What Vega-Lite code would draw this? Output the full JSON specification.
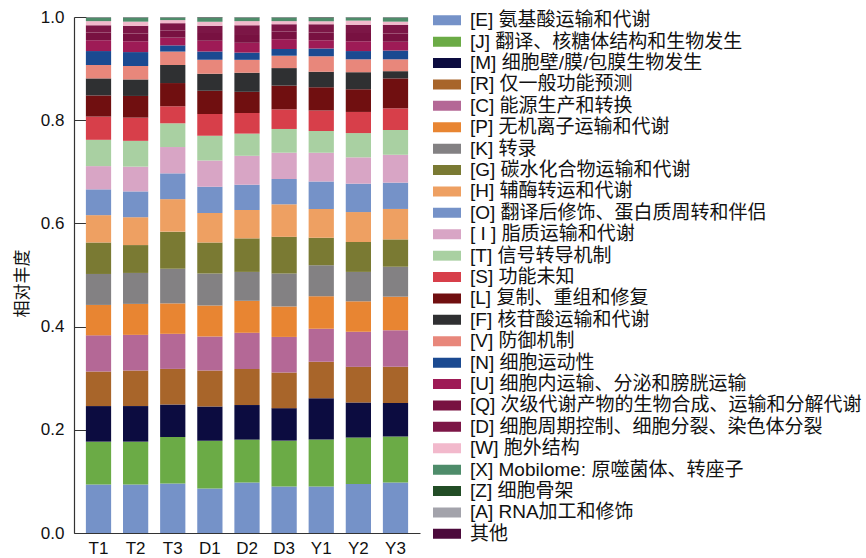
{
  "$schema": "https://vega.github.io/schema/vega-lite/v6.json",
  "width": 346,
  "height": 516,
  "autosize": {"type": "none"},
  "padding": {"left": 74, "top": 17, "right": 446, "bottom": 25},
  "background": "white",
  "config": {
    "view": {"stroke": null},
    "font": "Liberation Sans, Noto Sans CJK SC",
    "axis": {"domainColor": "#333333", "tickColor": "#333333", "labelColor": "#111111", "titleColor": "#111111", "grid": false}
  },
  "datasets": {
    "cogs": [
      {"code": "E", "rank": 1, "name": "[E] 氨基酸运输和代谢"},
      {"code": "J", "rank": 2, "name": "[J] 翻译、核糖体结构和生物发生"},
      {"code": "M", "rank": 3, "name": "[M] 细胞壁/膜/包膜生物发生"},
      {"code": "R", "rank": 4, "name": "[R] 仅一般功能预测"},
      {"code": "C", "rank": 5, "name": "[C] 能源生产和转换"},
      {"code": "P", "rank": 6, "name": "[P] 无机离子运输和代谢"},
      {"code": "K", "rank": 7, "name": "[K] 转录"},
      {"code": "G", "rank": 8, "name": "[G] 碳水化合物运输和代谢"},
      {"code": "H", "rank": 9, "name": "[H] 辅酶转运和代谢"},
      {"code": "O", "rank": 10, "name": "[O] 翻译后修饰、蛋白质周转和伴侣"},
      {"code": "I", "rank": 11, "name": "[ I ] 脂质运输和代谢"},
      {"code": "T", "rank": 12, "name": "[T] 信号转导机制"},
      {"code": "S", "rank": 13, "name": "[S] 功能未知"},
      {"code": "L", "rank": 14, "name": "[L] 复制、重组和修复"},
      {"code": "F", "rank": 15, "name": "[F] 核苷酸运输和代谢"},
      {"code": "V", "rank": 16, "name": "[V] 防御机制"},
      {"code": "N", "rank": 17, "name": "[N] 细胞运动性"},
      {"code": "U", "rank": 18, "name": "[U] 细胞内运输、分泌和膀胱运输"},
      {"code": "Q", "rank": 19, "name": "[Q] 次级代谢产物的生物合成、运输和分解代谢"},
      {"code": "D", "rank": 20, "name": "[D] 细胞周期控制、细胞分裂、染色体分裂"},
      {"code": "W", "rank": 21, "name": "[W] 胞外结构"},
      {"code": "X", "rank": 22, "name": "[X] Mobilome: 原噬菌体、转座子"},
      {"code": "Z", "rank": 23, "name": "[Z] 细胞骨架"},
      {"code": "A", "rank": 24, "name": "[A] RNA加工和修饰"},
      {"code": "Other", "rank": 25, "name": "其他"}
    ],
    "abundance": [
      {"s":"T1","c":"E","v":0.094},{"s":"T1","c":"J","v":0.083},{"s":"T1","c":"M","v":0.069},{"s":"T1","c":"R","v":0.067},{"s":"T1","c":"C","v":0.070},{"s":"T1","c":"P","v":0.059},{"s":"T1","c":"K","v":0.060},{"s":"T1","c":"G","v":0.061},{"s":"T1","c":"H","v":0.053},{"s":"T1","c":"O","v":0.050},{"s":"T1","c":"I","v":0.045},{"s":"T1","c":"T","v":0.051},{"s":"T1","c":"S","v":0.045},{"s":"T1","c":"L","v":0.041},{"s":"T1","c":"F","v":0.033},{"s":"T1","c":"V","v":0.026},{"s":"T1","c":"N","v":0.027},{"s":"T1","c":"U","v":0.021},{"s":"T1","c":"Q","v":0.015},{"s":"T1","c":"D","v":0.014},{"s":"T1","c":"W","v":0.008},{"s":"T1","c":"X","v":0.007},{"s":"T1","c":"Z","v":0.0003},{"s":"T1","c":"A","v":0.0004},{"s":"T1","c":"Other","v":0.0003},
      {"s":"T2","c":"E","v":0.094},{"s":"T2","c":"J","v":0.083},{"s":"T2","c":"M","v":0.069},{"s":"T2","c":"R","v":0.069},{"s":"T2","c":"C","v":0.069},{"s":"T2","c":"P","v":0.060},{"s":"T2","c":"K","v":0.060},{"s":"T2","c":"G","v":0.054},{"s":"T2","c":"H","v":0.054},{"s":"T2","c":"O","v":0.050},{"s":"T2","c":"I","v":0.048},{"s":"T2","c":"T","v":0.050},{"s":"T2","c":"S","v":0.045},{"s":"T2","c":"L","v":0.042},{"s":"T2","c":"F","v":0.032},{"s":"T2","c":"V","v":0.026},{"s":"T2","c":"N","v":0.027},{"s":"T2","c":"U","v":0.021},{"s":"T2","c":"Q","v":0.015},{"s":"T2","c":"D","v":0.015},{"s":"T2","c":"W","v":0.008},{"s":"T2","c":"X","v":0.008},{"s":"T2","c":"Z","v":0.0003},{"s":"T2","c":"A","v":0.0004},{"s":"T2","c":"Other","v":0.0003},
      {"s":"T3","c":"E","v":0.096},{"s":"T3","c":"J","v":0.090},{"s":"T3","c":"M","v":0.063},{"s":"T3","c":"R","v":0.069},{"s":"T3","c":"C","v":0.068},{"s":"T3","c":"P","v":0.059},{"s":"T3","c":"K","v":0.067},{"s":"T3","c":"G","v":0.072},{"s":"T3","c":"H","v":0.063},{"s":"T3","c":"O","v":0.050},{"s":"T3","c":"I","v":0.051},{"s":"T3","c":"T","v":0.046},{"s":"T3","c":"S","v":0.033},{"s":"T3","c":"L","v":0.045},{"s":"T3","c":"F","v":0.035},{"s":"T3","c":"V","v":0.026},{"s":"T3","c":"N","v":0.012},{"s":"T3","c":"U","v":0.015},{"s":"T3","c":"Q","v":0.014},{"s":"T3","c":"D","v":0.014},{"s":"T3","c":"W","v":0.006},{"s":"T3","c":"X","v":0.005},{"s":"T3","c":"Z","v":0.0003},{"s":"T3","c":"A","v":0.0004},{"s":"T3","c":"Other","v":0.0003},
      {"s":"D1","c":"E","v":0.086},{"s":"D1","c":"J","v":0.093},{"s":"D1","c":"M","v":0.066},{"s":"D1","c":"R","v":0.070},{"s":"D1","c":"C","v":0.066},{"s":"D1","c":"P","v":0.060},{"s":"D1","c":"K","v":0.062},{"s":"D1","c":"G","v":0.060},{"s":"D1","c":"H","v":0.057},{"s":"D1","c":"O","v":0.051},{"s":"D1","c":"I","v":0.051},{"s":"D1","c":"T","v":0.048},{"s":"D1","c":"S","v":0.042},{"s":"D1","c":"L","v":0.045},{"s":"D1","c":"F","v":0.033},{"s":"D1","c":"V","v":0.027},{"s":"D1","c":"N","v":0.016},{"s":"D1","c":"U","v":0.021},{"s":"D1","c":"Q","v":0.015},{"s":"D1","c":"D","v":0.014},{"s":"D1","c":"W","v":0.008},{"s":"D1","c":"X","v":0.008},{"s":"D1","c":"Z","v":0.0003},{"s":"D1","c":"A","v":0.0004},{"s":"D1","c":"Other","v":0.0003},
      {"s":"D2","c":"E","v":0.098},{"s":"D2","c":"J","v":0.083},{"s":"D2","c":"M","v":0.067},{"s":"D2","c":"R","v":0.070},{"s":"D2","c":"C","v":0.070},{"s":"D2","c":"P","v":0.062},{"s":"D2","c":"K","v":0.056},{"s":"D2","c":"G","v":0.065},{"s":"D2","c":"H","v":0.055},{"s":"D2","c":"O","v":0.049},{"s":"D2","c":"I","v":0.056},{"s":"D2","c":"T","v":0.043},{"s":"D2","c":"S","v":0.040},{"s":"D2","c":"L","v":0.041},{"s":"D2","c":"F","v":0.037},{"s":"D2","c":"V","v":0.025},{"s":"D2","c":"N","v":0.014},{"s":"D2","c":"U","v":0.019},{"s":"D2","c":"Q","v":0.017},{"s":"D2","c":"D","v":0.017},{"s":"D2","c":"W","v":0.008},{"s":"D2","c":"X","v":0.007},{"s":"D2","c":"Z","v":0.0003},{"s":"D2","c":"A","v":0.0004},{"s":"D2","c":"Other","v":0.0003},
      {"s":"D3","c":"E","v":0.090},{"s":"D3","c":"J","v":0.089},{"s":"D3","c":"M","v":0.063},{"s":"D3","c":"R","v":0.069},{"s":"D3","c":"C","v":0.069},{"s":"D3","c":"P","v":0.059},{"s":"D3","c":"K","v":0.064},{"s":"D3","c":"G","v":0.071},{"s":"D3","c":"H","v":0.063},{"s":"D3","c":"O","v":0.049},{"s":"D3","c":"I","v":0.051},{"s":"D3","c":"T","v":0.046},{"s":"D3","c":"S","v":0.038},{"s":"D3","c":"L","v":0.046},{"s":"D3","c":"F","v":0.034},{"s":"D3","c":"V","v":0.024},{"s":"D3","c":"N","v":0.013},{"s":"D3","c":"U","v":0.019},{"s":"D3","c":"Q","v":0.015},{"s":"D3","c":"D","v":0.014},{"s":"D3","c":"W","v":0.006},{"s":"D3","c":"X","v":0.007},{"s":"D3","c":"Z","v":0.0003},{"s":"D3","c":"A","v":0.0004},{"s":"D3","c":"Other","v":0.0003},
      {"s":"Y1","c":"E","v":0.090},{"s":"Y1","c":"J","v":0.091},{"s":"Y1","c":"M","v":0.080},{"s":"Y1","c":"R","v":0.071},{"s":"Y1","c":"C","v":0.064},{"s":"Y1","c":"P","v":0.063},{"s":"Y1","c":"K","v":0.060},{"s":"Y1","c":"G","v":0.053},{"s":"Y1","c":"H","v":0.056},{"s":"Y1","c":"O","v":0.053},{"s":"Y1","c":"I","v":0.056},{"s":"Y1","c":"T","v":0.042},{"s":"Y1","c":"S","v":0.040},{"s":"Y1","c":"L","v":0.045},{"s":"Y1","c":"F","v":0.030},{"s":"Y1","c":"V","v":0.030},{"s":"Y1","c":"N","v":0.015},{"s":"Y1","c":"U","v":0.016},{"s":"Y1","c":"Q","v":0.015},{"s":"Y1","c":"D","v":0.016},{"s":"Y1","c":"W","v":0.006},{"s":"Y1","c":"X","v":0.007},{"s":"Y1","c":"Z","v":0.0003},{"s":"Y1","c":"A","v":0.0004},{"s":"Y1","c":"Other","v":0.0003},
      {"s":"Y2","c":"E","v":0.095},{"s":"Y2","c":"J","v":0.090},{"s":"Y2","c":"M","v":0.068},{"s":"Y2","c":"R","v":0.069},{"s":"Y2","c":"C","v":0.068},{"s":"Y2","c":"P","v":0.059},{"s":"Y2","c":"K","v":0.057},{"s":"Y2","c":"G","v":0.058},{"s":"Y2","c":"H","v":0.058},{"s":"Y2","c":"O","v":0.055},{"s":"Y2","c":"I","v":0.051},{"s":"Y2","c":"T","v":0.047},{"s":"Y2","c":"S","v":0.041},{"s":"Y2","c":"L","v":0.044},{"s":"Y2","c":"F","v":0.033},{"s":"Y2","c":"V","v":0.025},{"s":"Y2","c":"N","v":0.016},{"s":"Y2","c":"U","v":0.019},{"s":"Y2","c":"Q","v":0.016},{"s":"Y2","c":"D","v":0.016},{"s":"Y2","c":"W","v":0.008},{"s":"Y2","c":"X","v":0.006},{"s":"Y2","c":"Z","v":0.0003},{"s":"Y2","c":"A","v":0.0004},{"s":"Y2","c":"Other","v":0.0003},
      {"s":"Y3","c":"E","v":0.098},{"s":"Y3","c":"J","v":0.089},{"s":"Y3","c":"M","v":0.065},{"s":"Y3","c":"R","v":0.070},{"s":"Y3","c":"C","v":0.071},{"s":"Y3","c":"P","v":0.065},{"s":"Y3","c":"K","v":0.058},{"s":"Y3","c":"G","v":0.053},{"s":"Y3","c":"H","v":0.059},{"s":"Y3","c":"O","v":0.051},{"s":"Y3","c":"I","v":0.054},{"s":"Y3","c":"T","v":0.048},{"s":"Y3","c":"S","v":0.042},{"s":"Y3","c":"L","v":0.058},{"s":"Y3","c":"F","v":0.014},{"s":"Y3","c":"V","v":0.023},{"s":"Y3","c":"N","v":0.017},{"s":"Y3","c":"U","v":0.017},{"s":"Y3","c":"Q","v":0.016},{"s":"Y3","c":"D","v":0.017},{"s":"Y3","c":"W","v":0.006},{"s":"Y3","c":"X","v":0.008},{"s":"Y3","c":"Z","v":0.0003},{"s":"Y3","c":"A","v":0.0004},{"s":"Y3","c":"Other","v":0.0003}
    ]
  },
  "data": {"name": "abundance"},
  "transform": [
    {"lookup": "c", "from": {"data": {"name": "cogs"}, "key": "code", "fields": ["name", "rank"]}}
  ],
  "mark": {"type": "bar"},
  "encoding": {
    "x": {
      "field": "s",
      "type": "nominal",
      "sort": ["T1", "T2", "T3", "D1", "D2", "D3", "Y1", "Y2", "Y3"],
      "scale": {"paddingInner": 0.32, "paddingOuter": 0.32},
      "axis": {"title": null, "labelAngle": 0, "ticks": false, "labelFontSize": 17, "labelPadding": 7, "domainWidth": 1.2}
    },
    "y": {
      "field": "v",
      "type": "quantitative",
      "stack": "zero",
      "scale": {"domain": [0, 1], "nice": false},
      "axis": {
        "title": "相对丰度",
        "titleFontSize": 17,
        "titleFontWeight": "normal",
        "titleX": -52,
        "titleY": 266,
        "titleBaseline": "middle",
        "titleAngle": -90,
        "values": [0, 0.2, 0.4, 0.6, 0.8, 1.0],
        "format": ".1f",
        "labelFontSize": 17,
        "tickSize": -12,
        "labelPadding": 22,
        "domainWidth": 1.2
      }
    },
    "order": {"field": "rank", "type": "quantitative", "sort": "ascending"},
    "color": {
      "field": "name",
      "type": "nominal",
      "sort": ["[E] 氨基酸运输和代谢", "[J] 翻译、核糖体结构和生物发生", "[M] 细胞壁/膜/包膜生物发生", "[R] 仅一般功能预测", "[C] 能源生产和转换", "[P] 无机离子运输和代谢", "[K] 转录", "[G] 碳水化合物运输和代谢", "[H] 辅酶转运和代谢", "[O] 翻译后修饰、蛋白质周转和伴侣", "[ I ] 脂质运输和代谢", "[T] 信号转导机制", "[S] 功能未知", "[L] 复制、重组和修复", "[F] 核苷酸运输和代谢", "[V] 防御机制", "[N] 细胞运动性", "[U] 细胞内运输、分泌和膀胱运输", "[Q] 次级代谢产物的生物合成、运输和分解代谢", "[D] 细胞周期控制、细胞分裂、染色体分裂", "[W] 胞外结构", "[X] Mobilome: 原噬菌体、转座子", "[Z] 细胞骨架", "[A] RNA加工和修饰", "其他"],
      "scale": {
        "domain": ["[E] 氨基酸运输和代谢", "[J] 翻译、核糖体结构和生物发生", "[M] 细胞壁/膜/包膜生物发生", "[R] 仅一般功能预测", "[C] 能源生产和转换", "[P] 无机离子运输和代谢", "[K] 转录", "[G] 碳水化合物运输和代谢", "[H] 辅酶转运和代谢", "[O] 翻译后修饰、蛋白质周转和伴侣", "[ I ] 脂质运输和代谢", "[T] 信号转导机制", "[S] 功能未知", "[L] 复制、重组和修复", "[F] 核苷酸运输和代谢", "[V] 防御机制", "[N] 细胞运动性", "[U] 细胞内运输、分泌和膀胱运输", "[Q] 次级代谢产物的生物合成、运输和分解代谢", "[D] 细胞周期控制、细胞分裂、染色体分裂", "[W] 胞外结构", "[X] Mobilome: 原噬菌体、转座子", "[Z] 细胞骨架", "[A] RNA加工和修饰", "其他"],
        "range": ["#7592C8", "#6BAB46", "#0C0C40", "#A8652A", "#B46896", "#E88532", "#838183", "#7A7A33", "#EEA062", "#7592C8", "#D8A5C5", "#A9D0A2", "#D73F4A", "#700F10", "#2F3032", "#E8877B", "#1B4A91", "#9E1B56", "#781141", "#7C1646", "#F2B9CC", "#4E8C6A", "#224D26", "#A3A3AB", "#4C0A3C"]
      },
      "legend": {
        "title": null,
        "orient": "none",
        "legendX": 359,
        "legendY": -7,
        "padding": 0,
        "symbolType": "M-1,-0.357H1V0.357H-1Z",
        "symbolSize": 784,
        "symbolStrokeWidth": 0,
        "symbolOpacity": 1,
        "labelFontSize": 19,
        "labelColor": "#111111",
        "labelOffset": 9,
        "labelLimit": 600,
        "clipHeight": 20.5,
        "rowPadding": 0.4
      }
    }
  }
}
